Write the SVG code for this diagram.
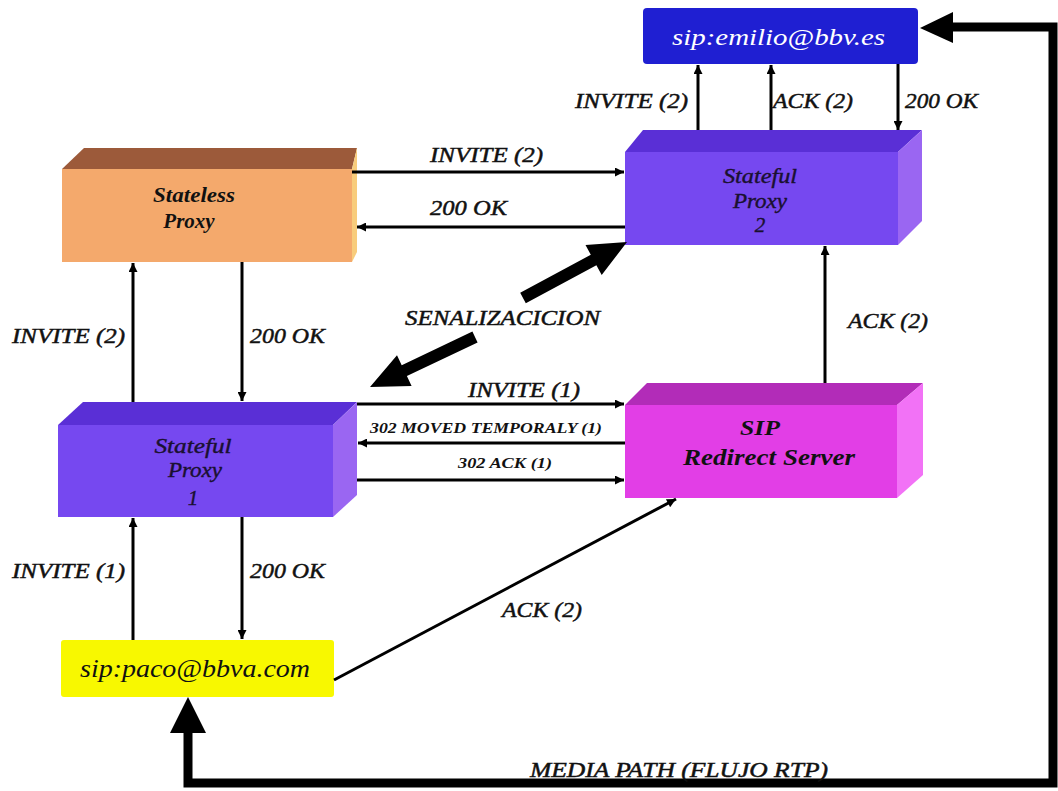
<svg xmlns="http://www.w3.org/2000/svg" width="1058" height="791" viewBox="0 0 1058 791">
<style>
.lbl{font-family:"Liberation Serif",serif;font-style:italic;font-size:22px;fill:#111;stroke:#111;stroke-width:0.5}
.sm{font-family:"Liberation Serif",serif;font-style:italic;font-weight:bold;font-size:15px;fill:#111}
.nt{font-family:"Liberation Serif",serif;font-style:italic;font-size:21px;fill:#1a1030;stroke:#1a1030;stroke-width:0.4}
.nb{font-family:"Liberation Serif",serif;font-style:italic;font-weight:bold;font-size:21px;fill:#111}
.ln{stroke:#000;stroke-width:3;fill:none}
.thick{stroke:#000;stroke-width:9;fill:none}
</style>
<defs>
<marker id="ah" viewBox="0 0 10 10" refX="10" refY="5" markerWidth="11" markerHeight="9" markerUnits="userSpaceOnUse" orient="auto">
<path d="M0,0 L10,5 L0,10 z" fill="#000"/>
</marker>
</defs>
<rect width="1058" height="791" fill="#fff"/>

<g id="emilio">
<rect x="643" y="8" width="275" height="56" rx="4" fill="#1f1fd2"/>
<text x="672" y="45" style="font-family:'Liberation Serif',serif;font-style:italic;font-size:24px;fill:#fff" textLength="213" lengthAdjust="spacingAndGlyphs">sip:emilio@bbv.es</text>
</g>

<g id="stateless-proxy">
<polygon points="62,169 84,148 357,148 352,169" fill="#9c5a3a"/>
<polygon points="352,169 357,148 357,252 352,262" fill="#f8cc7c"/>
<rect x="62" y="169" width="290" height="93" fill="#f4a96c"/>
<text class="nb" x="194" y="202" text-anchor="middle" textLength="82" lengthAdjust="spacingAndGlyphs">Stateless</text>
<text class="nb" x="189" y="228" text-anchor="middle">Proxy</text>
</g>

<g id="stateful-proxy-2">
<polygon points="625,152 643,130 922,130 898,152" fill="#5a2fd6"/>
<polygon points="898,152 922,130 922,221 898,245" fill="#9a66f2"/>
<rect x="625" y="152" width="273" height="93" fill="#7648f0"/>
<text class="nt" x="760" y="183" text-anchor="middle" textLength="74" lengthAdjust="spacingAndGlyphs">Stateful</text>
<text class="nt" x="760" y="208" text-anchor="middle" textLength="54" lengthAdjust="spacingAndGlyphs">Proxy</text>
<text class="nt" x="760" y="232" text-anchor="middle">2</text>
</g>

<g id="stateful-proxy-1">
<polygon points="58,425 83,402 357,402 333,425" fill="#5a2fd6"/>
<polygon points="333,425 357,402 357,495 333,517" fill="#9a66f2"/>
<rect x="58" y="425" width="275" height="92" fill="#7648f0"/>
<text class="nt" x="193" y="453" text-anchor="middle" textLength="77" lengthAdjust="spacingAndGlyphs">Stateful</text>
<text class="nt" x="195" y="477" text-anchor="middle" textLength="54" lengthAdjust="spacingAndGlyphs">Proxy</text>
<text class="nt" x="193" y="505" text-anchor="middle">1</text>
</g>

<g id="sip-redirect-server">
<polygon points="625,405 647,383 923,383 897,405" fill="#b22cb8"/>
<polygon points="897,405 923,383 923,475 897,498" fill="#f272f6"/>
<rect x="625" y="405" width="272" height="93" fill="#e23ee6"/>
<text class="nb" x="760" y="435" text-anchor="middle" style="font-size:22px" textLength="40" lengthAdjust="spacingAndGlyphs">SIP</text>
<text class="nb" x="769" y="465" text-anchor="middle" style="font-size:24px" textLength="172" lengthAdjust="spacingAndGlyphs">Redirect Server</text>
</g>

<g id="paco">
<rect x="61" y="640" width="273" height="57" rx="3" fill="#f8f800"/>
<text x="80" y="677" style="font-family:'Liberation Serif',serif;font-style:italic;font-size:25px;fill:#111" textLength="230" lengthAdjust="spacingAndGlyphs">sip:paco@bbva.com</text>
</g>

<g id="connectors">
<line class="ln" x1="698" y1="130" x2="698" y2="65" marker-end="url(#ah)"/>
<line class="ln" x1="771" y1="130" x2="771" y2="65" marker-end="url(#ah)"/>
<line class="ln" x1="898" y1="64" x2="898" y2="130" marker-end="url(#ah)"/>
<line class="ln" x1="352" y1="172" x2="624" y2="172" marker-end="url(#ah)"/>
<line class="ln" x1="625" y1="227" x2="357" y2="227" marker-end="url(#ah)"/>
<line class="ln" x1="133" y1="402" x2="133" y2="263" marker-end="url(#ah)"/>
<line class="ln" x1="242" y1="262" x2="242" y2="401" marker-end="url(#ah)"/>
<line class="ln" x1="357" y1="404" x2="624" y2="404" marker-end="url(#ah)"/>
<line class="ln" x1="625" y1="443" x2="358" y2="443" marker-end="url(#ah)"/>
<line class="ln" x1="357" y1="480" x2="624" y2="480" marker-end="url(#ah)"/>
<line class="ln" x1="133" y1="640" x2="133" y2="518" marker-end="url(#ah)"/>
<line class="ln" x1="242" y1="517" x2="242" y2="639" marker-end="url(#ah)"/>
<line class="ln" x1="825" y1="383" x2="825" y2="246" marker-end="url(#ah)"/>
<line class="ln" x1="334" y1="680" x2="676" y2="499" marker-end="url(#ah)"/>
<polygon points="525.8,303.3 596.4,265.3 601.7,275 627,242 585.5,245 590.8,254.7 520.2,292.7" fill="#000"/>
<polygon points="477.6,342.4 406.9,376.1 411.6,386.1 370,387 397,355.3 401.7,365.3 472.4,331.6" fill="#000"/>
<polyline class="thick" points="953,27 1053,27 1053,783 188,783 188,730"/>
<polygon points="953,12 953,43 920,28" fill="#000"/>
<polygon points="170,733 206,733 188,697" fill="#000"/>
</g>

<g id="labels">
<text class="lbl" x="575" y="108" textLength="113" lengthAdjust="spacingAndGlyphs">INVITE (2)</text>
<text class="lbl" x="773" y="108" textLength="80" lengthAdjust="spacingAndGlyphs">ACK (2)</text>
<text class="lbl" x="905" y="108" textLength="73" lengthAdjust="spacingAndGlyphs">200 OK</text>
<text class="lbl" x="430" y="162" textLength="113" lengthAdjust="spacingAndGlyphs">INVITE (2)</text>
<text class="lbl" x="430" y="215" textLength="77" lengthAdjust="spacingAndGlyphs">200 OK</text>
<text class="lbl" x="12" y="343" textLength="113" lengthAdjust="spacingAndGlyphs">INVITE (2)</text>
<text class="lbl" x="250" y="343" textLength="75" lengthAdjust="spacingAndGlyphs">200 OK</text>
<text class="lbl" x="405" y="325" textLength="195" lengthAdjust="spacingAndGlyphs">SENALIZACICION</text>
<text class="lbl" x="848" y="328" textLength="80" lengthAdjust="spacingAndGlyphs">ACK (2)</text>
<text class="lbl" x="468" y="397" textLength="112" lengthAdjust="spacingAndGlyphs">INVITE (1)</text>
<text class="sm" x="370" y="433" textLength="232" lengthAdjust="spacingAndGlyphs">302 MOVED TEMPORALY (1)</text>
<text class="sm" x="458" y="468" textLength="94" lengthAdjust="spacingAndGlyphs">302 ACK (1)</text>
<text class="lbl" x="12" y="578" textLength="113" lengthAdjust="spacingAndGlyphs">INVITE (1)</text>
<text class="lbl" x="250" y="578" textLength="75" lengthAdjust="spacingAndGlyphs">200 OK</text>
<text class="lbl" x="502" y="617" textLength="80" lengthAdjust="spacingAndGlyphs">ACK (2)</text>
<text class="lbl" x="530" y="777" textLength="298" lengthAdjust="spacingAndGlyphs">MEDIA PATH (FLUJO RTP)</text>
</g>
</svg>
